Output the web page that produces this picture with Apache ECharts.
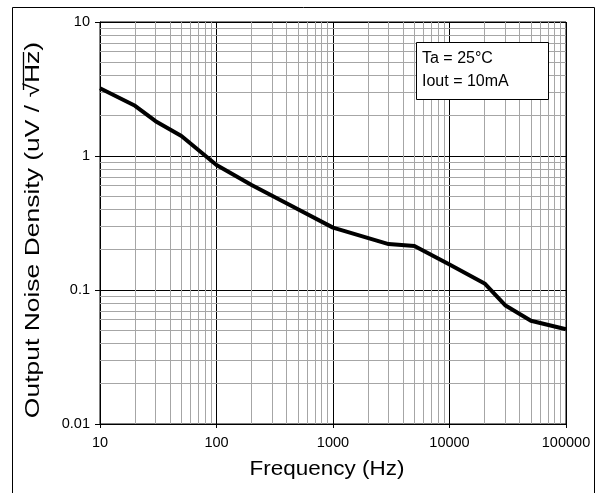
<!DOCTYPE html>
<html><head><meta charset="utf-8">
<script src="https://cdn.jsdelivr.net/npm/echarts@6/dist/echarts.min.js"></script>
<style>html,body{margin:0;padding:0;background:#fff}#c{width:609px;height:493px}</style>
</head><body><div id="c"></div>
<script>
const freq = [10, 20, 30, 50, 100, 200, 500, 1000, 3000, 5000, 10000, 20000, 30000, 50000, 100000];
const noise = [3.2, 2.37, 1.82, 1.41, 0.857, 0.608, 0.4, 0.292, 0.22, 0.213, 0.155, 0.112, 0.077, 0.059, 0.051];
const xMinorGrid = [20,30,40,50,60,70,80,90,200,300,400,500,600,700,800,900,2000,3000,4000,5000,6000,7000,8000,9000,20000,30000,40000,50000,60000,70000,80000,90000];
const yMinorGrid = [0.02,0.03,0.04,0.05,0.06,0.07,0.08,0.09,0.2,0.3,0.4,0.5,0.6,0.7,0.8,0.9,2,3,4,5,6,7,8,9];
const annot = ['Ta = 25°C', 'Iout = 10mA'];
const xName = 'Frequency (Hz)';
const yName = 'Output Noise Density (uV / √Hz)';

const font = 'Liberation Sans, Arial, sans-serif';
const chart = echarts.init(document.getElementById('c'), null, {renderer: 'canvas'});
const minorLines = [];
xMinorGrid.forEach(v => minorLines.push({xAxis: v}));
yMinorGrid.forEach(v => minorLines.push({yAxis: v}));

chart.setOption({
  animation: false,
  backgroundColor: '#fff',
  grid: {left: 100, top: 22, width: 466, height: 402, show: true, borderColor: '#000', borderWidth: 1, backgroundColor: 'transparent'},
  xAxis: {
    type: 'log', logBase: 10, min: 10, max: 100000,
    axisLine: {show: true, lineStyle: {color: '#000', width: 1}},
    axisTick: {show: true, inside: false, length: 4, lineStyle: {color: '#000'}},
    axisLabel: {color: '#000', fontSize: 14.5, fontFamily: font, margin: 11, formatter: v => String(Math.round(v))},
    splitLine: {show: true, lineStyle: {color: '#000', width: 1}},
    minorTick: {show: false}
  },
  yAxis: {
    type: 'log', logBase: 10, min: 0.01, max: 10,
    axisLine: {show: true, lineStyle: {color: '#000', width: 1}},
    axisTick: {show: true, inside: false, length: 5, lineStyle: {color: '#000'}},
    axisLabel: {color: '#000', fontSize: 14.5, fontFamily: font, margin: 10, formatter: v => String(Number(v.toPrecision(3)))},
    splitLine: {show: true, lineStyle: {color: '#000', width: 1}}
  },
  series: [
    {
      type: 'line', data: [], z: 1, silent: true,
      markLine: {silent: true, symbol: ['none','none'], label: {show: false}, animation: false,
        lineStyle: {color: '#a6a6a6', width: 1, type: 'solid'}, emphasis: {disabled: true},
        data: minorLines}
    },
    {
      type: 'line', data: freq.map((f, i) => [f, noise[i]]), z: 5,
      showSymbol: false, symbol: 'none',
      lineStyle: {color: '#000', width: 4, join: 'round'}
    }
  ],
  graphic: [
    {type: 'rect', z: 100, shape: {x: 12.5, y: 7.5, width: 582, height: 520}, style: {fill: 'none', stroke: '#000', lineWidth: 1}},
    {type: 'rect', z: 100, shape: {x: 416.5, y: 42.5, width: 132, height: 57}, style: {fill: '#fff', stroke: '#000', lineWidth: 1}},
    {type: 'text', z: 101, x: 422, y: 59, style: {text: annot[0], fill: '#000', font: '16px ' + font, verticalAlign: 'middle'}},
    {type: 'text', z: 101, x: 422, y: 82, style: {text: annot[1], fill: '#000', font: '16px ' + font, verticalAlign: 'middle'}},
    {type: 'text', z: 101, x: 327, y: 469, scaleX: 1.07, style: {text: xName, fill: '#000', font: '21px ' + font, align: 'center', verticalAlign: 'middle'}},
    {type: 'text', z: 101, x: 33, y: 230, rotation: Math.PI / 2, scaleX: 1.26, style: {text: yName, fill: '#000', font: '21px ' + font, align: 'center', verticalAlign: 'middle'}},
    {type: 'line', z: 101, shape: {x1: 23.5, y1: 52, x2: 23.5, y2: 90}, style: {stroke: '#000', lineWidth: 1.3}}
  ]
});
</script></body></html>
